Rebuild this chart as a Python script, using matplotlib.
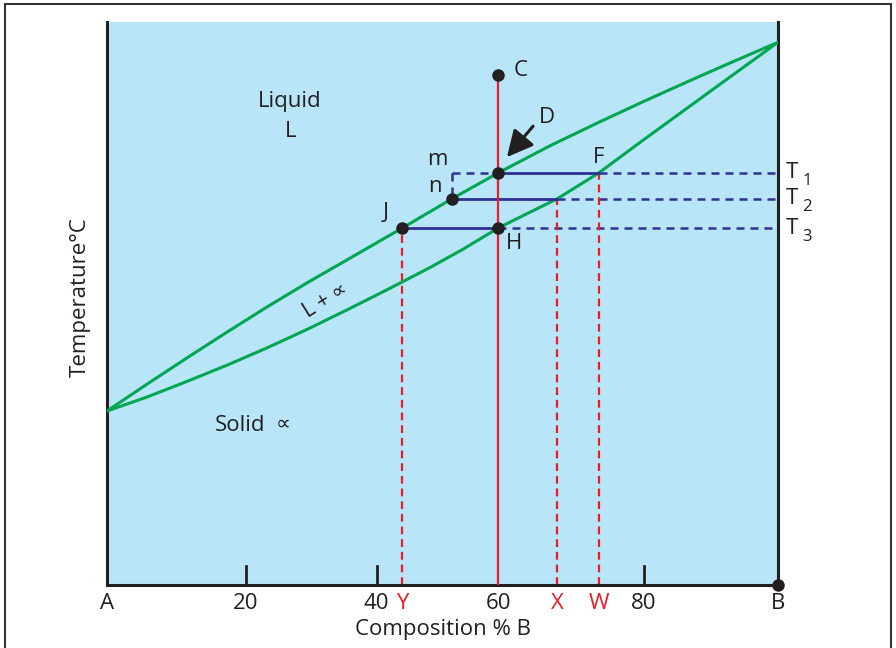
import matplotlib
matplotlib.use("Agg")
import matplotlib.pyplot as plt
from matplotlib.patches import Rectangle

plt.rcParams['font.family'] = ['Open Sans', 'DejaVu Sans']

# Curvas do diagrama (composicao % B, temperatura em escala relativa 0-100)
liquidus_comp = [0, 6, 12, 18, 24, 30, 36, 44.0, 51.4, 58.3, 66, 73.5, 80, 86.9, 93, 100]
liquidus_temp = [30.9, 35.7, 40.4, 45.0, 49.5, 53.8, 57.9, 63.4, 68.6, 73.2, 78.0, 82.3, 85.9, 89.6, 92.8, 96.4]
solidus_comp = [0, 6, 12, 18, 24, 30, 36, 42, 48, 53, 58.3, 62.5, 67.1, 73.3, 80, 86, 92, 100]
solidus_temp = [30.9, 33.4, 36.2, 39.1, 42.2, 45.5, 49.0, 52.6, 56.3, 59.6, 63.4, 65.9, 68.6, 73.2, 79.1, 84.3, 89.5, 96.4]

# Temperaturas T1, T2, T3 e pontos notaveis
temps = [73.2, 68.6, 63.4]
temp_labels = ["1", "2", "3"]
liga_comp = 58.3
c_temp = 90.6
liq_comp = [58.3, 51.4, 44.0]     # m, n, J
sol_comp = [73.3, 67.1, 58.3]     # F, X, H
letras_baixo = ["W", "X", "Y"]

# Eixo x
ticks_pos = [0, 20.7, 40.2, 58.3, 80.0, 100]
ticks_lab = ["A", "20", "40", "60", "80", "B"]
marcas_pos = [20.7, 40.2, 80.0]

verde = "#00a651"
vermelho = "#ed1c24"
azul = "#2e3192"
preto = "#231f20"
fundo = "#b9e5f8"

fig = plt.figure(figsize=(8.96, 6.48), dpi=100)
ax = fig.add_axes([107/896, 1-585/648, 671/896, 563/648])
ax.set_facecolor(fundo)
ax.set_xlim(0, 100)
ax.set_ylim(0, 100)

ax.spines["top"].set_visible(False)
for lado in ["left", "right", "bottom"]:
    ax.spines[lado].set_color(preto)
    ax.spines[lado].set_linewidth(2.2)

# Curvas liquidus e solidus
ax.plot(liquidus_comp, liquidus_temp, color=verde, lw=2.2, zorder=3)
ax.plot(solidus_comp, solidus_temp, color=verde, lw=2.2, zorder=3)

# Linhas tracejadas horizontais ate o eixo da direita
tracos = dict(color=azul, lw=1.8, dashes=(3.2, 2.4), zorder=2)
for t, c_sol in zip(temps, sol_comp):
    ax.plot([c_sol, 100], [t, t], **tracos)
ax.plot([liq_comp[1], liga_comp], [temps[0], temps[0]], **tracos)
ax.plot([liq_comp[1], liq_comp[1]], [temps[0], temps[1]], **tracos)

# Linhas de amarracao
for t, c_liq, c_sol in zip(temps, liq_comp, sol_comp):
    ax.plot([c_liq, c_sol], [t, t], color=azul, lw=2.0, zorder=4)

# Linhas vermelhas
for t, c in zip([temps[2], temps[1], temps[0]], [liq_comp[2], sol_comp[1], sol_comp[0]]):
    ax.plot([c, c], [0, t], color=vermelho, lw=1.6, dashes=(3.5, 2.2), zorder=2)
ax.plot([liga_comp, liga_comp], [0, c_temp], color=vermelho, lw=1.6, zorder=5)

# Pontos
pts_x = [liga_comp, liq_comp[0], liq_comp[1], liq_comp[2], liga_comp]
pts_y = [c_temp, temps[0], temps[1], temps[2], temps[2]]
ax.plot(pts_x, pts_y, "o", color=preto, ms=8, zorder=6)
ax.plot([100], [0], "o", color=preto, ms=8, zorder=6, clip_on=False)

# Seta D
ax.annotate("", xy=(59.6, 76.0), xytext=(63.5, 81.5),
            arrowprops=dict(arrowstyle="-|>,head_length=0.8,head_width=0.4",
                            color=preto, lw=2.2, mutation_scale=20, shrinkA=0, shrinkB=0),
            zorder=7)

fs = 16
ax.text(61.6, 91.3, "C", fontsize=fs, color=preto, ha="center", va="center")
ax.text(65.5, 83.0, "D", fontsize=fs, color=preto, ha="center", va="center")
ax.text(49.3, 75.6, "m", fontsize=fs, color=preto, ha="center", va="center")
ax.text(48.8, 70.8, "n", fontsize=fs, color=preto, ha="center", va="center")
ax.text(41.6, 66.2, "J", fontsize=fs, color=preto, ha="center", va="center")
ax.text(73.2, 76.0, "F", fontsize=fs, color=preto, ha="center", va="center")
ax.text(60.6, 60.7, "H", fontsize=fs, color=preto, ha="center", va="center")

ax.text(27.3, 85.9, "Liquid", fontsize=fs, color=preto, ha="center", va="center")
ax.text(27.3, 80.6, "L", fontsize=fs, color=preto, ha="center", va="center")
ax.text(32.6, 50.6, "L + \u221d", fontsize=15, color=preto, ha="center", va="center",
        rotation=32, rotation_mode="anchor")
ax.text(19.8, 28.4, "Solid", fontsize=fs, color=preto, ha="center", va="center")
ax.text(26.3, 28.6, "\u221d", fontsize=15, color=preto, ha="center", va="center")

# Rotulos T1, T2, T3
for t, s in zip(temps, temp_labels):
    ax.text(101.2, t, "T", fontsize=fs, color=preto, ha="left", va="center", clip_on=False)
    ax.text(103.6, t - 1.5, s, fontsize=12, color=preto, ha="left", va="center", clip_on=False)

# Eixo x
ax.set_yticks([])
ax.set_xticks(ticks_pos)
ax.set_xticklabels(ticks_lab)
ax.tick_params(axis="x", which="major", direction="in", length=0, labelsize=fs,
               labelcolor=preto, pad=5.5)
for p in marcas_pos:
    ax.plot([p, p], [0, 3.4], color=preto, lw=2.0, zorder=2)
ax.set_xticks(sol_comp[:2] + [liq_comp[2]], minor=True)
ax.set_xticklabels(letras_baixo, minor=True)
ax.tick_params(axis="x", which="minor", length=0, labelsize=fs, labelcolor=vermelho, pad=5.5)

ax.set_xlabel("Composition % B", fontsize=fs, color=preto, labelpad=3.5)
fig.text(80/896, 1-297/648, "Temperature\u00b0C", fontsize=fs, color=preto,
         rotation=90, ha="center", va="center")

# Moldura externa
fig.patches.append(Rectangle((5/896, -0.01), 886/896, 1-4/648+0.01, transform=fig.transFigure,
                             fill=False, edgecolor="#333333", lw=1.5))

fig.savefig("out.png", dpi=100)
